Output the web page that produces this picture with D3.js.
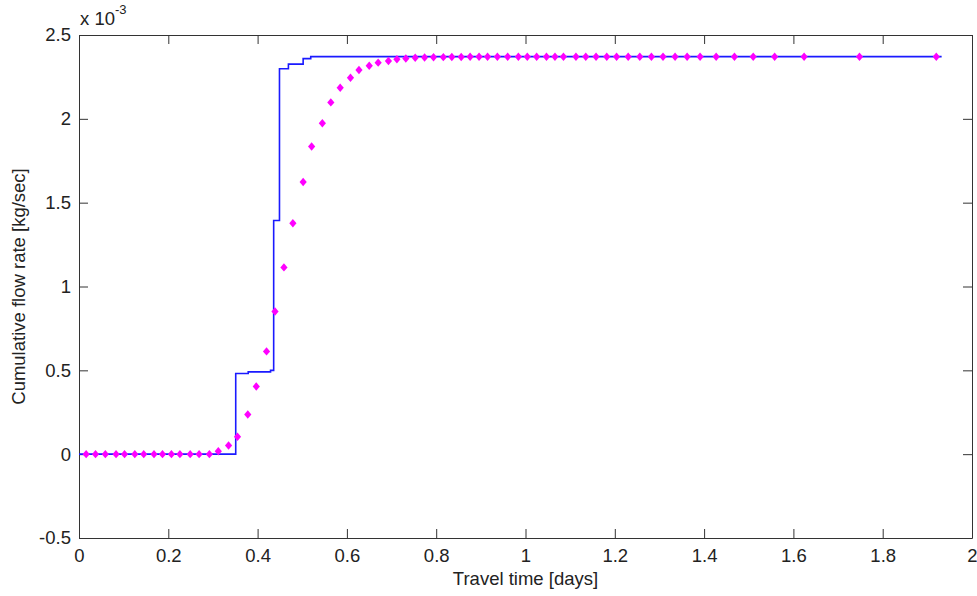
<!DOCTYPE html>
<html>
<head>
<meta charset="utf-8">
<script src="https://cdn.jsdelivr.net/npm/d3@7"></script>
<style>
  body { margin: 0; background: #fff; }
  svg { display: block; }
  .axis text { font-family: "Liberation Sans", Arial, sans-serif; font-size: 18.5px; fill: #222; }
  .axis path, .axis line { stroke: #333; }
  .label { font-family: "Liberation Sans", Arial, sans-serif; font-size: 18.5px; fill: #222; }
</style>
</head>
<body>
<div id="chart"></div>
<script>
// step curve (blue) - change points, values in 1e-3 kg/sec
const stepTime = [0, 0.351, 0.379, 0.429, 0.436, 0.449, 0.469, 0.502, 0.519, 1.932];
const stepRate = [0, 0.481, 0.491, 0.500, 1.394, 2.299, 2.326, 2.359, 2.371, 2.371];

// marker series (magenta diamonds)
const dotTime = [0.016, 0.037, 0.059, 0.083, 0.102, 0.125, 0.145, 0.168, 0.187, 0.207,
  0.226, 0.249, 0.269, 0.292, 0.312, 0.335, 0.355, 0.378, 0.397, 0.420,
  0.439, 0.459, 0.479, 0.502, 0.521, 0.545, 0.564, 0.585, 0.608, 0.627,
  0.650, 0.670, 0.693, 0.712, 0.732, 0.753, 0.774, 0.794, 0.816, 0.835,
  0.856, 0.876, 0.896, 0.915, 0.937, 0.960, 0.984, 1.004, 1.025, 1.047,
  1.066, 1.085, 1.113, 1.135, 1.158, 1.182, 1.204, 1.230, 1.256, 1.282,
  1.308, 1.335, 1.362, 1.391, 1.427, 1.468, 1.510, 1.558, 1.624, 1.748, 1.920];
const dotRate = [0, 0, 0, 0, 0, 0, 0, 0, 0, 0,
  0, 0, 0, 0, 0.017, 0.052, 0.104, 0.237, 0.404, 0.613,
  0.851, 1.114, 1.377, 1.623, 1.835, 1.974, 2.098, 2.185, 2.245, 2.291,
  2.317, 2.335, 2.345, 2.355, 2.360, 2.364, 2.366, 2.367, 2.368, 2.369,
  2.369, 2.370, 2.370, 2.370, 2.370, 2.370, 2.370, 2.370, 2.370, 2.370,
  2.370, 2.370, 2.370, 2.370, 2.370, 2.370, 2.370, 2.370, 2.370, 2.370,
  2.370, 2.370, 2.370, 2.370, 2.370, 2.370, 2.370, 2.370, 2.370, 2.370, 2.370];

const xTicks = [0, 0.2, 0.4, 0.6, 0.8, 1, 1.2, 1.4, 1.6, 1.8, 2];
const yTicks = [-0.5, 0, 0.5, 1, 1.5, 2, 2.5];

const width = 977, height = 596;
const margin = { top: 35, right: 5, bottom: 58, left: 79 };
const w = width - margin.left - margin.right,
    h = height - margin.top - margin.bottom;

// plain hyphen minus like the original
const fmt = d => String(d);

const svg = d3.select("#chart").append("svg")
    .attr("width", width)
    .attr("height", height);

const g = svg.append("g")
    .attr("transform", "translate(" + margin.left + "," + margin.top + ")");

const x = d3.scaleLinear().domain([0, 2]).range([0, w]);
const y = d3.scaleLinear().domain([-0.5, 2.5]).range([h, 0]);

const tick = 9;

g.append("g")
    .attr("class", "axis")
    .attr("transform", "translate(0," + h + ")")
    .call(d3.axisBottom(x).tickValues(xTicks).tickSizeInner(-tick).tickSizeOuter(0)
        .tickPadding(11).tickFormat(fmt));

g.append("g")
    .attr("class", "axis")
    .call(d3.axisTop(x).tickValues(xTicks).tickSizeInner(-tick).tickSizeOuter(0).tickFormat(""));

g.append("g")
    .attr("class", "axis")
    .call(d3.axisLeft(y).tickValues(yTicks).tickSizeInner(-tick).tickSizeOuter(0)
        .tickPadding(8).tickFormat(fmt));

g.append("g")
    .attr("class", "axis")
    .attr("transform", "translate(" + w + ",0)")
    .call(d3.axisRight(y).tickValues(yTicks).tickSizeInner(-tick).tickSizeOuter(0).tickFormat(""));

// blue step line
const steps = stepTime.map((t, i) => [t, stepRate[i]]);
g.append("path")
    .datum(steps)
    .attr("fill", "none")
    .attr("stroke", "#1a1aff")
    .attr("stroke-width", 1.6)
    .attr("d", d3.line().x(d => x(d[0])).y(d => y(d[1])).curve(d3.curveStepAfter));

// magenta diamonds
const dots = dotTime.map((t, i) => [t, dotRate[i]]);
g.selectAll(".dot")
    .data(dots)
    .enter()
    .append("path")
    .attr("class", "dot")
    .attr("transform", d => "translate(" + x(d[0]) + "," + y(d[1]) + ")")
    .attr("d", "M0,-4.2 L3.6,0 L0,4.2 L-3.6,0 Z")
    .attr("fill", "#ff00ff");

// labels
svg.append("text")
    .attr("class", "label")
    .attr("x", margin.left + w / 2)
    .attr("y", 585)
    .attr("text-anchor", "middle")
    .text("Travel time [days]");

svg.append("text")
    .attr("class", "label")
    .attr("transform", "translate(25," + (margin.top + h / 2) + ") rotate(-90)")
    .attr("text-anchor", "middle")
    .text("Cumulative flow rate [kg/sec]");

const expo = svg.append("text")
    .attr("class", "label")
    .attr("x", 80)
    .attr("y", 25);
expo.append("tspan").text("x 10");
expo.append("tspan").attr("font-size", "13px").attr("dy", -11).text("-3");
</script>
</body>
</html>
